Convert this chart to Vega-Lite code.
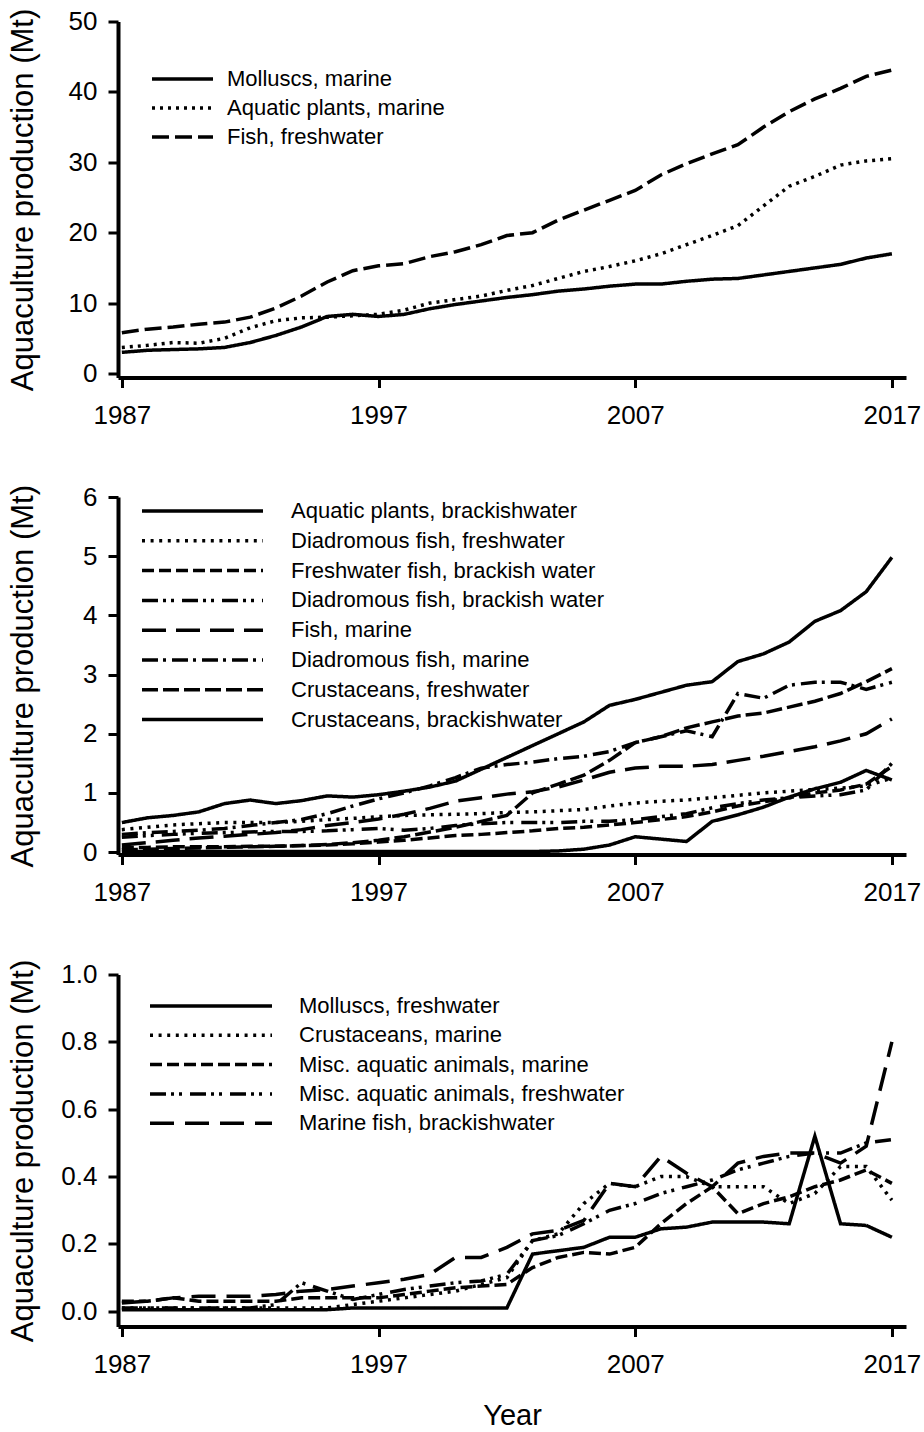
{
  "$schema": "https://vega.github.io/schema/vega-lite/v6.json",
  "background": "white",
  "padding": {"left": 6, "top": 7.5, "right": 5, "bottom": 2},
  "config": {
    "font": "Liberation Sans",
    "view": {"stroke": null},
    "axis": {"domainColor": "black", "domainWidth": 4, "tickColor": "black", "tickWidth": 3, "tickSize": 10, "labelFont": "Liberation Sans", "labelFontSize": 26, "labelColor": "black", "grid": false, "titleFont": "Liberation Sans", "titleFontSize": 31, "titleFontWeight": "normal", "titleColor": "black"},
    "axisY": {"labelPadding": 11, "titleX": -95, "titleBaseline": "middle"},
    "axisX": {"labelPadding": 15, "labelFlush": false, "titleFontSize": 29},
    "legend": {"orient": "none", "title": null, "symbolType": "stroke", "symbolStrokeWidth": 3.5, "symbolStrokeColor": "black", "labelFont": "Liberation Sans", "labelFontSize": 22, "labelColor": "black", "clipHeight": 27, "padding": 0, "labelLimit": 0}
  },
  "datasets": {
    "p1": [
      {"year":1987,"Molluscs, marine":3.0,"Aquatic plants, marine":3.7,"Fish, freshwater":5.8},
      {"year":1988,"Molluscs, marine":3.3,"Aquatic plants, marine":4.0,"Fish, freshwater":6.3},
      {"year":1989,"Molluscs, marine":3.4,"Aquatic plants, marine":4.4,"Fish, freshwater":6.6},
      {"year":1990,"Molluscs, marine":3.5,"Aquatic plants, marine":4.3,"Fish, freshwater":7.0},
      {"year":1991,"Molluscs, marine":3.7,"Aquatic plants, marine":5.0,"Fish, freshwater":7.3},
      {"year":1992,"Molluscs, marine":4.4,"Aquatic plants, marine":6.5,"Fish, freshwater":8.0},
      {"year":1993,"Molluscs, marine":5.4,"Aquatic plants, marine":7.5,"Fish, freshwater":9.3},
      {"year":1994,"Molluscs, marine":6.6,"Aquatic plants, marine":7.9,"Fish, freshwater":11.0},
      {"year":1995,"Molluscs, marine":8.1,"Aquatic plants, marine":8.0,"Fish, freshwater":13.0},
      {"year":1996,"Molluscs, marine":8.4,"Aquatic plants, marine":8.2,"Fish, freshwater":14.6},
      {"year":1997,"Molluscs, marine":8.1,"Aquatic plants, marine":8.4,"Fish, freshwater":15.3},
      {"year":1998,"Molluscs, marine":8.4,"Aquatic plants, marine":9.0,"Fish, freshwater":15.6},
      {"year":1999,"Molluscs, marine":9.2,"Aquatic plants, marine":10.0,"Fish, freshwater":16.6},
      {"year":2000,"Molluscs, marine":9.8,"Aquatic plants, marine":10.5,"Fish, freshwater":17.3},
      {"year":2001,"Molluscs, marine":10.3,"Aquatic plants, marine":11.0,"Fish, freshwater":18.3},
      {"year":2002,"Molluscs, marine":10.8,"Aquatic plants, marine":11.8,"Fish, freshwater":19.6},
      {"year":2003,"Molluscs, marine":11.2,"Aquatic plants, marine":12.5,"Fish, freshwater":20.0},
      {"year":2004,"Molluscs, marine":11.7,"Aquatic plants, marine":13.5,"Fish, freshwater":21.8},
      {"year":2005,"Molluscs, marine":12.0,"Aquatic plants, marine":14.5,"Fish, freshwater":23.2},
      {"year":2006,"Molluscs, marine":12.4,"Aquatic plants, marine":15.2,"Fish, freshwater":24.6},
      {"year":2007,"Molluscs, marine":12.7,"Aquatic plants, marine":16.0,"Fish, freshwater":26.0},
      {"year":2008,"Molluscs, marine":12.7,"Aquatic plants, marine":17.0,"Fish, freshwater":28.2},
      {"year":2009,"Molluscs, marine":13.1,"Aquatic plants, marine":18.3,"Fish, freshwater":29.8},
      {"year":2010,"Molluscs, marine":13.4,"Aquatic plants, marine":19.6,"Fish, freshwater":31.2},
      {"year":2011,"Molluscs, marine":13.5,"Aquatic plants, marine":21.0,"Fish, freshwater":32.5},
      {"year":2012,"Molluscs, marine":14.0,"Aquatic plants, marine":23.8,"Fish, freshwater":35.0},
      {"year":2013,"Molluscs, marine":14.5,"Aquatic plants, marine":26.6,"Fish, freshwater":37.2},
      {"year":2014,"Molluscs, marine":15.0,"Aquatic plants, marine":28.0,"Fish, freshwater":39.0},
      {"year":2015,"Molluscs, marine":15.5,"Aquatic plants, marine":29.6,"Fish, freshwater":40.5},
      {"year":2016,"Molluscs, marine":16.4,"Aquatic plants, marine":30.2,"Fish, freshwater":42.2},
      {"year":2017,"Molluscs, marine":17.0,"Aquatic plants, marine":30.5,"Fish, freshwater":43.1}
    ],
    "p2": [
      {"year":1987,"A":0.01,"B":0.38,"C":0.08,"D":0.25,"E":0.12,"F":0.30,"G":0.04,"H":0.50},
      {"year":1988,"A":0.01,"B":0.42,"C":0.08,"D":0.28,"E":0.16,"F":0.33,"G":0.05,"H":0.58},
      {"year":1989,"A":0.01,"B":0.46,"C":0.09,"D":0.30,"E":0.20,"F":0.35,"G":0.06,"H":0.62},
      {"year":1990,"A":0.01,"B":0.48,"C":0.09,"D":0.32,"E":0.24,"F":0.37,"G":0.07,"H":0.68},
      {"year":1991,"A":0.01,"B":0.50,"C":0.09,"D":0.33,"E":0.27,"F":0.40,"G":0.08,"H":0.82},
      {"year":1992,"A":0.01,"B":0.50,"C":0.10,"D":0.34,"E":0.30,"F":0.45,"G":0.09,"H":0.88},
      {"year":1993,"A":0.01,"B":0.50,"C":0.10,"D":0.35,"E":0.33,"F":0.50,"G":0.10,"H":0.82},
      {"year":1994,"A":0.01,"B":0.52,"C":0.11,"D":0.35,"E":0.38,"F":0.55,"G":0.11,"H":0.87},
      {"year":1995,"A":0.01,"B":0.55,"C":0.12,"D":0.36,"E":0.45,"F":0.65,"G":0.13,"H":0.95},
      {"year":1996,"A":0.01,"B":0.57,"C":0.14,"D":0.38,"E":0.50,"F":0.78,"G":0.16,"H":0.93},
      {"year":1997,"A":0.01,"B":0.60,"C":0.17,"D":0.40,"E":0.56,"F":0.90,"G":0.20,"H":0.97},
      {"year":1998,"A":0.01,"B":0.62,"C":0.20,"D":0.37,"E":0.64,"F":1.00,"G":0.26,"H":1.03},
      {"year":1999,"A":0.01,"B":0.63,"C":0.24,"D":0.40,"E":0.74,"F":1.12,"G":0.34,"H":1.10},
      {"year":2000,"A":0.01,"B":0.64,"C":0.28,"D":0.45,"E":0.86,"F":1.26,"G":0.42,"H":1.20},
      {"year":2001,"A":0.01,"B":0.65,"C":0.30,"D":0.48,"E":0.92,"F":1.42,"G":0.52,"H":1.40},
      {"year":2002,"A":0.01,"B":0.67,"C":0.33,"D":0.50,"E":0.98,"F":1.48,"G":0.62,"H":1.60},
      {"year":2003,"A":0.01,"B":0.68,"C":0.36,"D":0.50,"E":1.02,"F":1.52,"G":1.00,"H":1.80},
      {"year":2004,"A":0.02,"B":0.70,"C":0.40,"D":0.50,"E":1.10,"F":1.58,"G":1.15,"H":2.00},
      {"year":2005,"A":0.05,"B":0.72,"C":0.42,"D":0.52,"E":1.22,"F":1.62,"G":1.30,"H":2.20},
      {"year":2006,"A":0.12,"B":0.78,"C":0.46,"D":0.52,"E":1.35,"F":1.70,"G":1.55,"H":2.48},
      {"year":2007,"A":0.26,"B":0.83,"C":0.50,"D":0.55,"E":1.42,"F":1.85,"G":1.85,"H":2.58},
      {"year":2008,"A":0.22,"B":0.86,"C":0.55,"D":0.60,"E":1.45,"F":1.95,"G":1.95,"H":2.70},
      {"year":2009,"A":0.18,"B":0.88,"C":0.60,"D":0.65,"E":1.45,"F":2.05,"G":2.10,"H":2.82},
      {"year":2010,"A":0.52,"B":0.92,"C":0.68,"D":0.75,"E":1.48,"F":1.95,"G":2.20,"H":2.88},
      {"year":2011,"A":0.63,"B":0.96,"C":0.78,"D":0.82,"E":1.55,"F":2.68,"G":2.30,"H":3.22},
      {"year":2012,"A":0.76,"B":1.00,"C":0.85,"D":0.88,"E":1.62,"F":2.60,"G":2.35,"H":3.35},
      {"year":2013,"A":0.93,"B":1.03,"C":0.92,"D":0.92,"E":1.70,"F":2.82,"G":2.45,"H":3.55},
      {"year":2014,"A":1.07,"B":1.06,"C":1.00,"D":0.95,"E":1.78,"F":2.87,"G":2.55,"H":3.90},
      {"year":2015,"A":1.18,"B":1.08,"C":1.05,"D":0.97,"E":1.88,"F":2.87,"G":2.68,"H":4.08},
      {"year":2016,"A":1.38,"B":1.12,"C":1.15,"D":1.05,"E":2.00,"F":2.75,"G":2.88,"H":4.40},
      {"year":2017,"A":1.22,"B":1.25,"C":1.45,"D":1.50,"E":2.25,"F":2.87,"G":3.10,"H":4.98}
    ],
    "p3": [
      {"year":1987,"M":0.005,"N":0.01,"O":0.03,"P":0.01,"Q":0.025},
      {"year":1988,"M":0.005,"N":0.01,"O":0.03,"P":0.01,"Q":0.03},
      {"year":1989,"M":0.005,"N":0.01,"O":0.04,"P":0.01,"Q":0.04},
      {"year":1990,"M":0.005,"N":0.01,"O":0.03,"P":0.01,"Q":0.045},
      {"year":1991,"M":0.005,"N":0.01,"O":0.03,"P":0.01,"Q":0.045},
      {"year":1992,"M":0.005,"N":0.01,"O":0.03,"P":0.01,"Q":0.045},
      {"year":1993,"M":0.005,"N":0.01,"O":0.03,"P":0.02,"Q":0.05},
      {"year":1994,"M":0.005,"N":0.01,"O":0.04,"P":0.085,"Q":0.06},
      {"year":1995,"M":0.005,"N":0.01,"O":0.04,"P":0.06,"Q":0.065},
      {"year":1996,"M":0.01,"N":0.02,"O":0.04,"P":0.035,"Q":0.075},
      {"year":1997,"M":0.01,"N":0.03,"O":0.04,"P":0.05,"Q":0.085},
      {"year":1998,"M":0.01,"N":0.04,"O":0.05,"P":0.065,"Q":0.095},
      {"year":1999,"M":0.01,"N":0.05,"O":0.06,"P":0.075,"Q":0.11},
      {"year":2000,"M":0.01,"N":0.06,"O":0.07,"P":0.085,"Q":0.16},
      {"year":2001,"M":0.01,"N":0.08,"O":0.075,"P":0.09,"Q":0.16},
      {"year":2002,"M":0.01,"N":0.10,"O":0.08,"P":0.11,"Q":0.19},
      {"year":2003,"M":0.17,"N":0.21,"O":0.13,"P":0.21,"Q":0.23},
      {"year":2004,"M":0.18,"N":0.23,"O":0.16,"P":0.225,"Q":0.24},
      {"year":2005,"M":0.19,"N":0.32,"O":0.175,"P":0.26,"Q":0.27},
      {"year":2006,"M":0.22,"N":0.38,"O":0.17,"P":0.30,"Q":0.38},
      {"year":2007,"M":0.22,"N":0.37,"O":0.19,"P":0.32,"Q":0.37},
      {"year":2008,"M":0.245,"N":0.40,"O":0.26,"P":0.35,"Q":0.46},
      {"year":2009,"M":0.25,"N":0.40,"O":0.32,"P":0.37,"Q":0.41},
      {"year":2010,"M":0.265,"N":0.37,"O":0.37,"P":0.39,"Q":0.37},
      {"year":2011,"M":0.265,"N":0.37,"O":0.29,"P":0.42,"Q":0.44},
      {"year":2012,"M":0.265,"N":0.37,"O":0.32,"P":0.44,"Q":0.46},
      {"year":2013,"M":0.26,"N":0.32,"O":0.34,"P":0.46,"Q":0.47},
      {"year":2014,"M":0.52,"N":0.35,"O":0.37,"P":0.47,"Q":0.47},
      {"year":2015,"M":0.26,"N":0.43,"O":0.39,"P":0.47,"Q":0.44},
      {"year":2016,"M":0.255,"N":0.43,"O":0.42,"P":0.50,"Q":0.49},
      {"year":2017,"M":0.22,"N":0.33,"O":0.38,"P":0.51,"Q":0.80}
    ]
  },
  "spacing": 119.5,
  "bounds": "flush",
  "resolve": {"scale": {"strokeDash": "independent", "y": "independent", "x": "independent"}, "legend": {"strokeDash": "independent"}},
  "vconcat": [
    {
      "width": 788,
      "height": 356,
      "data": {"name": "p1"},
      "transform": [{"fold": ["Molluscs, marine", "Aquatic plants, marine", "Fish, freshwater"], "as": ["series", "value"]}],
      "mark": {"type": "line", "strokeWidth": 3.5, "color": "black"},
      "encoding": {
        "x": {"field": "year", "type": "quantitative", "scale": {"domain": [1986.85, 2017.55], "nice": false, "zero": false}, "axis": {"values": [1987, 1997, 2007, 2017], "format": "d", "title": null}},
        "y": {"field": "value", "type": "quantitative", "scale": {"domain": [-0.57, 50], "nice": false}, "axis": {"values": [0, 10, 20, 30, 40, 50], "title": "Aquaculture production (Mt)"}},
        "strokeDash": {"field": "series", "type": "nominal", "scale": {"domain": ["Molluscs, marine", "Aquatic plants, marine", "Fish, freshwater"], "range": [[1, 0], [3, 5], [17, 6]]}, "legend": {"legendX": 32, "legendY": 44, "symbolSize": 3721, "labelOffset": 12, "rowPadding": 2}}
      }
    },
    {
      "width": 788,
      "height": 357.5,
      "data": {"name": "p2"},
      "transform": [
        {"fold": ["A", "B", "C", "D", "E", "F", "G", "H"], "as": ["key", "value"]},
        {"lookup": "key", "from": {"data": {"values": [
          {"key": "A", "series": "Aquatic plants, brackishwater"},
          {"key": "B", "series": "Diadromous fish, freshwater"},
          {"key": "C", "series": "Freshwater fish, brackish water"},
          {"key": "D", "series": "Diadromous fish, brackish water"},
          {"key": "E", "series": "Fish, marine"},
          {"key": "F", "series": "Diadromous fish, marine"},
          {"key": "G", "series": "Crustaceans, freshwater"},
          {"key": "H", "series": "Crustaceans, brackishwater"}
        ]}, "key": "key", "fields": ["series"]}}
      ],
      "mark": {"type": "line", "strokeWidth": 3.5, "color": "black"},
      "encoding": {
        "x": {"field": "year", "type": "quantitative", "scale": {"domain": [1986.85, 2017.55], "nice": false, "zero": false}, "axis": {"values": [1987, 1997, 2007, 2017], "format": "d", "title": null}},
        "y": {"field": "value", "type": "quantitative", "scale": {"domain": [-0.04, 6], "nice": false}, "axis": {"values": [0, 1, 2, 3, 4, 5, 6], "title": "Aquaculture production (Mt)"}},
        "strokeDash": {"field": "series", "type": "nominal", "scale": {"domain": ["Aquatic plants, brackishwater", "Diadromous fish, freshwater", "Freshwater fish, brackish water", "Diadromous fish, brackish water", "Fish, marine", "Diadromous fish, marine", "Crustaceans, freshwater", "Crustaceans, brackishwater"], "range": [[1, 0], [3, 5.6], [12, 5], [16, 5, 3, 5, 3, 8], [24, 10], [16, 5, 3, 6], [16, 5], [1, 0]]}, "legend": {"legendX": 22, "legendY": 0.5, "symbolSize": 14641, "labelOffset": 26, "rowPadding": 2.8}}
      }
    },
    {
      "width": 788,
      "height": 352,
      "data": {"name": "p3"},
      "transform": [
        {"fold": ["M", "N", "O", "P", "Q"], "as": ["key", "value"]},
        {"lookup": "key", "from": {"data": {"values": [
          {"key": "M", "series": "Molluscs, freshwater"},
          {"key": "N", "series": "Crustaceans, marine"},
          {"key": "O", "series": "Misc. aquatic animals, marine"},
          {"key": "P", "series": "Misc. aquatic animals, freshwater"},
          {"key": "Q", "series": "Marine fish, brackishwater"}
        ]}, "key": "key", "fields": ["series"]}}
      ],
      "mark": {"type": "line", "strokeWidth": 3.5, "color": "black"},
      "encoding": {
        "x": {"field": "year", "type": "quantitative", "scale": {"domain": [1986.85, 2017.55], "nice": false, "zero": false}, "axis": {"values": [1987, 1997, 2007, 2017], "format": "d", "title": "Year", "titleY": 98, "titleBaseline": "alphabetic"}},
        "y": {"field": "value", "type": "quantitative", "scale": {"domain": [-0.045, 1.0], "nice": false}, "axis": {"values": [0, 0.2, 0.4, 0.6, 0.8, 1.0], "format": ".1f", "title": "Aquaculture production (Mt)"}},
        "strokeDash": {"field": "series", "type": "nominal", "scale": {"domain": ["Molluscs, freshwater", "Crustaceans, marine", "Misc. aquatic animals, marine", "Misc. aquatic animals, freshwater", "Marine fish, brackishwater"], "range": [[1, 0], [3, 5.6], [12, 5], [16, 5, 3, 5, 3, 8], [24, 11]]}, "legend": {"legendX": 30, "legendY": 18, "symbolSize": 14884, "labelOffset": 25, "rowPadding": 2.3}}
      }
    }
  ]
}
